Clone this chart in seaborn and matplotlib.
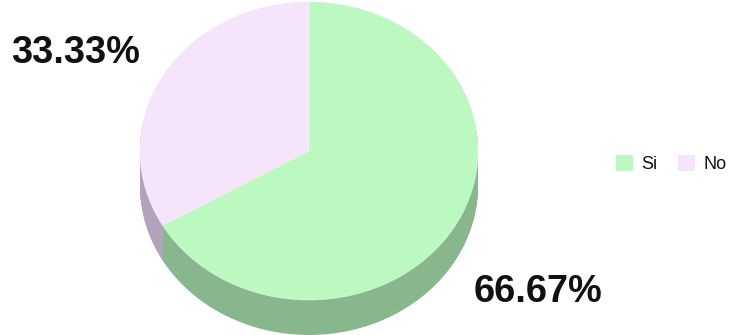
import numpy as np
import matplotlib
matplotlib.use("Agg")
import matplotlib.pyplot as plt
from matplotlib.patches import Patch
import seaborn as sns

# Survey answers and their shares (percent)
categories = ["Si", "No"]
values = [66.67, 33.33]
top_colors = ["#bbf9c0", "#f6e4fb"]
side_colors = ["#89b78d", "#b3a2bb"]

sns.set_style("white")
plt.rcParams["font.family"] = ["Liberation Sans", "DejaVu Sans"]

W, H = 732, 335
fig = plt.figure(figsize=(W / 100, H / 100), dpi=100)
ax = fig.add_axes([0, 0, 1, 1])

# pixel geometry of the tilted disc
cx, cy = 309, 151          # centre of the top face (px from left / top)
rx, ry = 169, 149          # horizontal / vertical radius in px
depth = 35 / ry            # thickness of the disc in y data units

# draw order: "No" first, counter-clockwise from 12 o'clock
order = [1, 0]
vals = [values[i] for i in order]

# side wall: stacked copies of the pie, shifted down
for d in np.linspace(depth, 0.0, 40):
    ax.pie(vals, colors=[side_colors[i] for i in order], startangle=90,
           counterclock=True, center=(0, -d), radius=1.0,
           wedgeprops=dict(linewidth=0))

# top face
ax.pie(vals, colors=[top_colors[i] for i in order], startangle=90,
       counterclock=True, center=(0, 0), radius=1.0,
       wedgeprops=dict(linewidth=0.6, edgecolor=(1, 1, 1, 0.5)))

# squash the circle into an ellipse by setting independent limits
ax.set_aspect("auto")
ax.set_xlim(-cx / rx, (W - cx) / rx)
ax.set_ylim(-(H - cy) / ry, cy / ry)
ax.axis("off")

# percentage labels
label_pos = {"Si": (1.357, -0.945), "No": (-1.382, 0.655)}
for cat, v in zip(categories, values):
    x, y = label_pos[cat]
    ax.text(x, y, f"{v:.2f}%", ha="center", va="center",
            fontsize=27.3, fontweight="bold", color="#111111")

# legend
handles = [Patch(facecolor=c, edgecolor="none") for c in top_colors]
leg = fig.legend(handles, categories, loc="center left",
                 bbox_to_anchor=(616 / W, 1 - 164 / H), ncol=2, frameon=False,
                 fontsize=13, handlelength=0.95, handleheight=1.0,
                 handletextpad=0.43, columnspacing=1.17,
                 borderpad=0, borderaxespad=0)
for t in leg.get_texts():
    t.set_color("#111111")

fig.savefig("out.png", dpi=100, facecolor="white")
